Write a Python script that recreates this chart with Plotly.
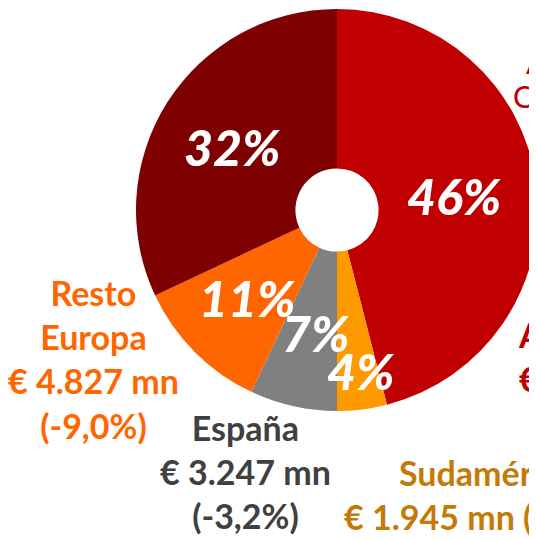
import plotly.graph_objects as go

W, H = 537, 539
OFF = 8  # page body margin

# ---- data ----
regions = ["América del Norte", "Sudamérica", "España", "Resto Europa", "Reino Unido"]
shares = [46, 4, 7, 11, 32]
share_labels = ["46%", "4%", "7%", "11%", "32%"]
slice_colors = ["#C00000", "#FF9900", "#808080", "#FF6600", "#7F0000"]

label_names = ["América del Norte", "Sudamérica", "España", "Resto<br>Europa"]
label_amounts = ["€ 20.490 mn", "€ 1.945 mn", "€ 3.247 mn", "€ 4.827 mn"]
label_changes = ["(+2,4%)", "(-1,5%)", "(-3,2%)", "(-9,0%)"]
label_colors = ["#C00000", "#C47A08", "#404040", "#FF6600"]

note_lines = ["Ajustes", "Corporativos"]

def px(x):
    return (x - OFF) / W

def py(y):
    return 1 - (y - OFF) / H

fig = go.Figure()
fig.add_trace(go.Pie(
    labels=regions,
    values=shares,
    marker=dict(colors=slice_colors, line=dict(width=0)),
    hole=0.207,
    sort=False,
    direction="clockwise",
    rotation=0,
    textinfo="none",
    hoverinfo="label+percent",
    showlegend=False,
    domain=dict(x=[px(136), px(538)], y=[py(411), py(9)]),
))

FONT = "Lato"
# percentage labels inside slices
pct_pos = [(454, 196), (360, 371), (315, 333), (247, 298), (232, 147)]
for txt, (x, y) in zip(share_labels, pct_pos):
    fig.add_annotation(x=px(x), y=py(y), xref="paper", yref="paper",
                       text=txt, showarrow=False, xanchor="center", yanchor="middle",
                       font=dict(family=FONT, size=50, color="white",
                                 weight=900, style="italic"))

LF = 34
# América del Norte (left-aligned, cropped at right)
fig.add_annotation(x=px(516), y=py(356), xref="paper", yref="paper",
                   text=label_names[0] + "<br>" + label_amounts[0] + " " + label_changes[0],
                   showarrow=False, xanchor="left", yanchor="middle", align="left",
                   font=dict(family=FONT, size=LF, color=label_colors[0], weight="bold"))
# Sudamérica
fig.add_annotation(x=px(487), y=py(494), xref="paper", yref="paper",
                   text=label_names[1] + "<br>" + label_amounts[1] + " " + label_changes[1],
                   showarrow=False, xanchor="center", yanchor="middle", align="center",
                   font=dict(family=FONT, size=LF, color=label_colors[1], weight="bold"))
# España
fig.add_annotation(x=px(245), y=py(471), xref="paper", yref="paper",
                   text=label_names[2] + "<br>" + label_amounts[2] + "<br>" + label_changes[2],
                   showarrow=False, xanchor="center", yanchor="middle", align="center",
                   font=dict(family=FONT, size=LF, color=label_colors[2], weight="bold"))
# Resto Europa
fig.add_annotation(x=px(93), y=py(359), xref="paper", yref="paper",
                   text=label_names[3] + "<br>" + label_amounts[3] + "<br>" + label_changes[3],
                   showarrow=False, xanchor="center", yanchor="middle", align="center",
                   font=dict(family=FONT, size=LF, color=label_colors[3], weight="bold"))
# top-right note
for txt, (x, y) in zip(note_lines, [(524, 62), (511, 96)]):
    fig.add_annotation(x=px(x), y=py(y), xref="paper", yref="paper",
                       text=txt, showarrow=False, xanchor="left", yanchor="middle",
                       font=dict(family=FONT, size=30, color="#C00000"))

fig.update_layout(width=W, height=H, margin=dict(l=0, r=0, t=0, b=0),
                  paper_bgcolor="white", plot_bgcolor="white")
fig.write_html("out.html")
